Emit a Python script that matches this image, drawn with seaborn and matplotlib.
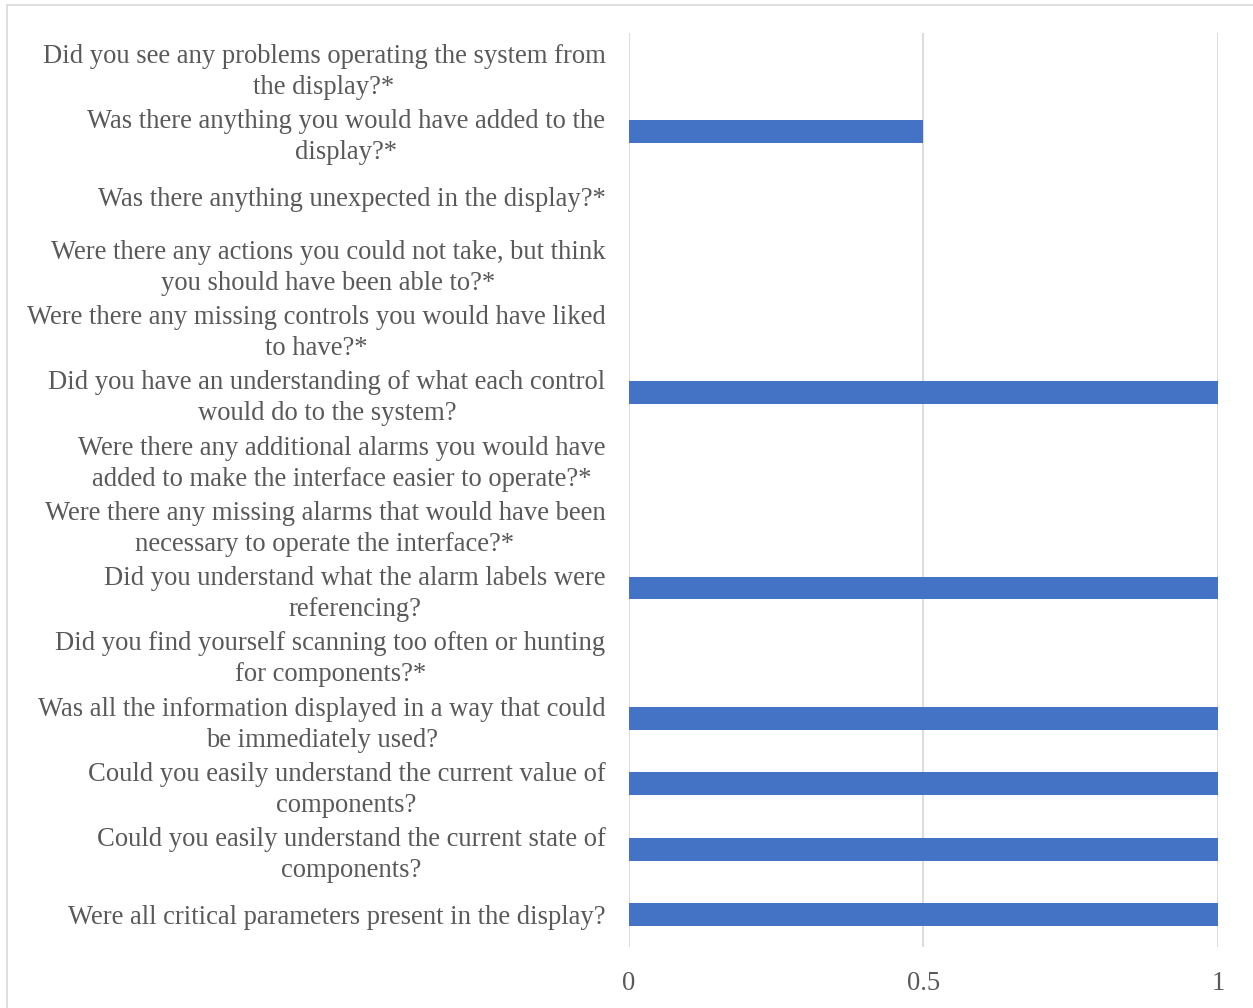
import pandas as pd
import seaborn as sns
import matplotlib.pyplot as plt
from matplotlib.patches import Rectangle

# ── 数据 ──────────────────────────────────────────────
questions = [
    "Did you see any problems operating the system from\nthe display?*",
    "Was there anything you would have added to the\ndisplay?*",
    "Was there anything unexpected in the display?*",
    "Were there any actions you could not take, but think\nyou should have been able to?*",
    "Were there any missing controls you would have liked\nto have?*",
    "Did you have an understanding of what each control\nwould do to the system?",
    "Were there any additional alarms you would have\nadded to make the interface easier to operate?*",
    "Were there any missing alarms that would have been\nnecessary to operate the interface?*",
    "Did you understand what the alarm labels were\nreferencing?",
    "Did you find yourself scanning too often or hunting\nfor components?*",
    "Was all the information displayed in a way that could\nbe immediately used?",
    "Could you easily understand the current value of\ncomponents?",
    "Could you easily understand the current state of\ncomponents?",
    "Were all critical parameters present in the display?",
]
scores = [0, 0.5, 0, 0, 0, 1, 0, 0, 1, 0, 1, 1, 1, 1]

df = pd.DataFrame({"Question": questions, "Score": scores})

# ── 绘图 ──────────────────────────────────────────────
sns.set_theme(style="white")
plt.rcParams["font.family"] = ["Liberation Serif", "DejaVu Serif"]

fig = plt.figure(figsize=(12.53, 10.08), dpi=100)
ax = fig.add_axes([0.502, 0.0605, 0.470, 0.9065])

sns.barplot(data=df, x="Score", y="Question", order=questions, orient="h",
            color="#4472C4", saturation=1, width=0.35, linewidth=0, ax=ax)

ax.set_xlim(0, 1)
ax.set_ylim(len(questions) - 0.5, -0.5)
ax.set_xticks([0, 0.5, 1])
ax.set_xticklabels(["0", "0.5", "1"])
ax.grid(axis="x", color="#d9d9d9", linewidth=1.3)
ax.set_axisbelow(True)
ax.set_xlabel("")
ax.set_ylabel("")
for s in ax.spines.values():
    s.set_visible(False)

ax.tick_params(axis="y", length=0, pad=17, labelsize=19.2, labelcolor="#595959")
ax.tick_params(axis="x", length=0, pad=17, labelsize=19.2, labelcolor="#595959")
for t in ax.get_yticklabels():
    t.set_multialignment("center")
    t.set_linespacing(1.32)

# 外框
fig.patches.append(Rectangle((7 / 1253, -0.1), 1.2, 1.1 - 5 / 1008,
                             transform=fig.transFigure, fill=False,
                             edgecolor="#d9d9d9", linewidth=1.2))

fig.savefig("out.png", dpi=100)
